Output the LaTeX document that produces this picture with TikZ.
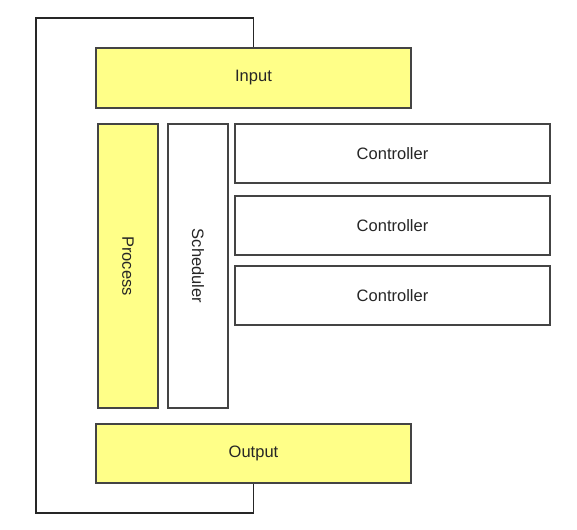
\documentclass[tikz,border=0pt]{standalone}
\usepackage{fontspec}
\setmainfont{Liberation Sans}
\definecolor{boxyellow}{HTML}{FFFF88}
\definecolor{boxline}{HTML}{444444}

\begin{document}
\begin{tikzpicture}[x=1pt, y=-1pt, line width=1.3pt,
    every node/.style={font=\fontsize{16.5}{19}\selectfont, text=black!85},
    block/.style={draw=boxline, rectangle, inner sep=0pt},
    yellowblock/.style={block, fill=boxyellow},
    whiteblock/.style={block, fill=white}]
                \useasboundingbox (0,0) rectangle (577,529);

                \node[yellowblock, minimum width=315pt, minimum height=60pt] (input) at (253.5,78) {Input};
                \node[yellowblock, minimum width=315pt, minimum height=59pt] (output) at (253.5,453.5) {Output};

                \node[yellowblock, minimum width=60pt, minimum height=284pt] (process) at (128,266) {};
                \node[rotate=-90] at (process.center) {Process};
                \node[whiteblock, minimum width=60pt, minimum height=284pt] (scheduler) at (198,266) {};
                \node[rotate=-90] at (scheduler.center) {Scheduler};

                \node[whiteblock, minimum width=315pt, minimum height=59pt] (ctrlA) at (392.5,153.5) {Controller};
                \node[whiteblock, minimum width=315pt, minimum height=59pt] (ctrlB) at (392.5,225.5) {Controller};
                \node[whiteblock, minimum width=315pt, minimum height=59pt] (ctrlC) at (392.5,295.5) {Controller};

                \coordinate (topleft) at (36,18);
                \coordinate (bottomleft) at (36,513);
                \draw[black!85] (input.north) |- (topleft) -- (bottomleft) -| (output.south);
            \end{tikzpicture}
\end{document}
